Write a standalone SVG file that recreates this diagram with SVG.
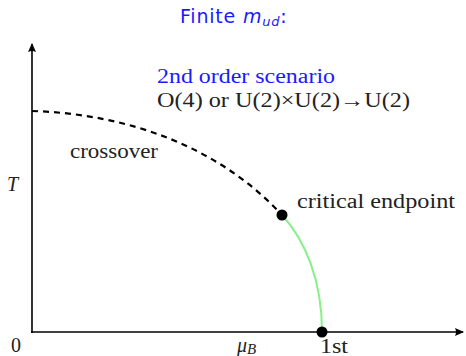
<svg xmlns="http://www.w3.org/2000/svg" width="466" height="356" viewBox="0 0 466 356">
<style>
.t{font-family:"Liberation Serif",serif;font-size:20px;fill:#222}
.b{fill:#1a1aff}
.ax{stroke:#000;stroke-width:1.6;fill:none}
</style>
<defs>
<marker id="ar" markerWidth="10" markerHeight="10" refX="8" refY="5" orient="auto" markerUnits="userSpaceOnUse">
<path d="M0,1 L9,5 L0,9 Q2,5 0,1Z" fill="#000"/>
</marker>
</defs>
<rect width="466" height="356" fill="#fff"/>
<text x="180" y="23" font-family="DejaVu Sans, sans-serif" font-size="19" letter-spacing="0.8" fill="#1a1aff">Finite <tspan font-style="italic">m</tspan><tspan font-style="italic" font-size="13" dy="3">ud</tspan><tspan dy="-3">:</tspan></text>
<g id="connectors">
<path class="ax" d="M32,333 V44" marker-end="url(#ar)"/>
<path class="ax" d="M31,332 H463" marker-end="url(#ar)"/>
<path d="M32,111 C130,114 220,148 282,215" fill="none" stroke="#000" stroke-width="2.2" stroke-dasharray="6,5"/>
<path d="M282,215 C305,240 322,280 322,332" fill="none" stroke="#88f088" stroke-width="2"/>
</g>
<g id="critical-endpoint">
<circle cx="282" cy="215" r="5.5" fill="#000"/>
<text class="t" x="297" y="208" textLength="158" lengthAdjust="spacingAndGlyphs">critical endpoint</text>
</g>
<g id="first-order">
<circle cx="322" cy="332" r="5.5" fill="#000"/>
<text class="t" x="320" y="353" textLength="28" lengthAdjust="spacingAndGlyphs">1st</text>
</g>
<g id="scenario">
<text class="t b" x="157" y="83" textLength="178" lengthAdjust="spacingAndGlyphs">2nd order scenario</text>
<text class="t" x="157" y="107" textLength="253" lengthAdjust="spacingAndGlyphs">O(4) or U(2)×U(2)→U(2)</text>
</g>
<g id="crossover"><text class="t" x="70" y="158" textLength="88" lengthAdjust="spacingAndGlyphs">crossover</text></g>
<text class="t" x="7" y="191" font-style="italic">T</text>
<text class="t" x="11" y="352">0</text>
<text class="t" x="237" y="352" font-style="italic">μ<tspan font-size="15" dy="2" font-style="italic">B</tspan></text>
</svg>
